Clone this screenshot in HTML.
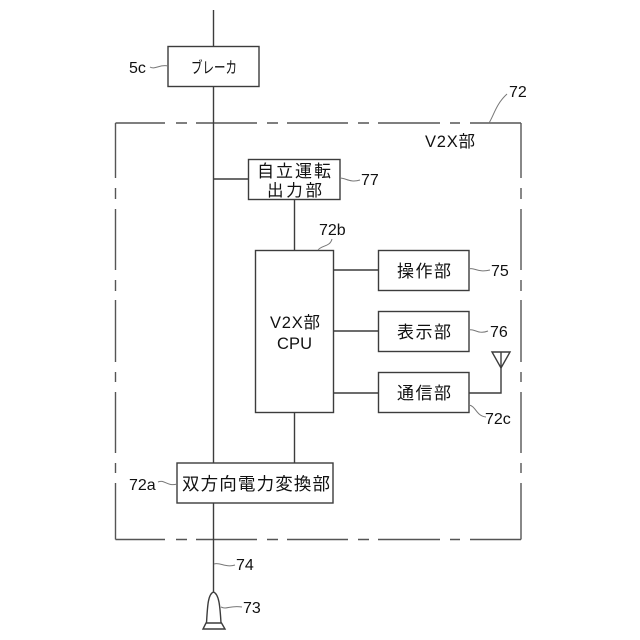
<!DOCTYPE html>
<html lang="ja">
<head>
<meta charset="utf-8">
<title>V2X</title>
<style>
html,body{margin:0;padding:0;background:#fff;width:640px;height:640px;overflow:hidden}
svg{display:block}
text{font-family:"Liberation Sans","Noto Sans CJK JP",sans-serif;fill:#111}
.l{stroke:#3c3c3c;stroke-width:1.4;fill:none}
.d{stroke:#555;stroke-width:1.4;fill:none}
.q{stroke:#777;stroke-width:1;fill:none}
.b{stroke:#3c3c3c;stroke-width:1.4;fill:#fff}
</style>
</head>
<body>
<svg width="640" height="640" viewBox="0 0 640 640" xmlns="http://www.w3.org/2000/svg">
<!-- outer dashed box -->
<path class="d" d="M115.5 123H165M176 123H187M196 123H257M267 123H278M287 123H348M358 123H369M378 123H440M450 123H460M470 123H521
M115.5 539.5H165M176 539.5H187M196 539.5H257M267 539.5H278M287 539.5H348M358 539.5H369M378 539.5H440M450 539.5H460M470 539.5H521
M521 123V178M521 188V199M521 209V270M521 280V291M521 300V362M521 372V382M521 392V453M521 463V473M521 483V539.5
M115.5 123V178M115.5 188V199M115.5 209V270M115.5 280V291M115.5 300V362M115.5 372V382M115.5 392V453M115.5 463V473M115.5 483V539.5"/>
<!-- connectors -->
<path class="l" d="M213.5 10V592M213.5 179H248M294.5 199V250M294.5 412V463M333 270H378M333 331H378M333 393H378M469 393H501V352"/>
<path class="l" d="M492 352H510L501 368Z"/>
<!-- boxes -->
<rect class="b" x="168" y="46.5" width="91" height="40"/>
<rect class="b" x="248.5" y="159.5" width="91.5" height="40"/>
<rect class="b" x="255.5" y="250.5" width="78" height="162"/>
<rect class="b" x="378.5" y="250.5" width="90.5" height="40"/>
<rect class="b" x="378.5" y="311.5" width="90.5" height="40"/>
<rect class="b" x="378.5" y="372.5" width="90.5" height="40"/>
<rect class="b" x="177" y="463" width="156" height="40"/>
<!-- plug -->
<path class="l" d="M206.5 623C207.5 606 208 594 213.5 592C219 594 220 606 221 623"/>
<path class="l" d="M206 623H221.5L225 629H203Z"/>
<!-- leaders -->
<path class="q" d="M150 67C155 70 160 64 168 66"/>
<path class="q" d="M340 178C346 178 350 183 360 180"/>
<path class="q" d="M469 269C474 267 478 273 490 270"/>
<path class="q" d="M469 330C474 328 478 335 488 331"/>
<path class="q" d="M469 405C476 406 476 416 486 417"/>
<path class="q" d="M158 482C164 479 168 487 177 484"/>
<path class="q" d="M214 564C220 562 226 568 235 565"/>
<path class="q" d="M221 607C227 610 230 605 242 607"/>
<path class="q" d="M318 250C322 245 330 247 332 239"/>
<path class="q" d="M489 123C494 115 496 104 507 94"/>
<!-- box labels -->
<text x="191" y="73" font-size="16" textLength="46" lengthAdjust="spacingAndGlyphs">ブレーカ</text>
<text x="257" y="177" font-size="17" textLength="74">自立運転</text>
<text x="267" y="196" font-size="16.5" textLength="55">出力部</text>
<text x="270" y="328" font-size="16.5" textLength="50">V2X部</text>
<text x="277" y="349" font-size="16.5" textLength="35">CPU</text>
<text x="397" y="277" font-size="17" textLength="54">操作部</text>
<text x="397" y="338" font-size="17" textLength="54">表示部</text>
<text x="397" y="399" font-size="17" textLength="54">通信部</text>
<text x="182" y="490" font-size="17.5" textLength="148">双方向電力変換部</text>
<text x="425" y="147" font-size="16.5" textLength="50">V2X部</text>
<!-- reference labels -->
<text x="129" y="73" font-size="16">5c</text>
<text x="509" y="97" font-size="16">72</text>
<text x="361" y="185" font-size="16">77</text>
<text x="319" y="235" font-size="16">72b</text>
<text x="491" y="276" font-size="16">75</text>
<text x="490" y="337" font-size="16">76</text>
<text x="485" y="424" font-size="16">72c</text>
<text x="129" y="490" font-size="16">72a</text>
<text x="236" y="570" font-size="16">74</text>
<text x="243" y="613" font-size="16">73</text>
</svg>
</body>
</html>
